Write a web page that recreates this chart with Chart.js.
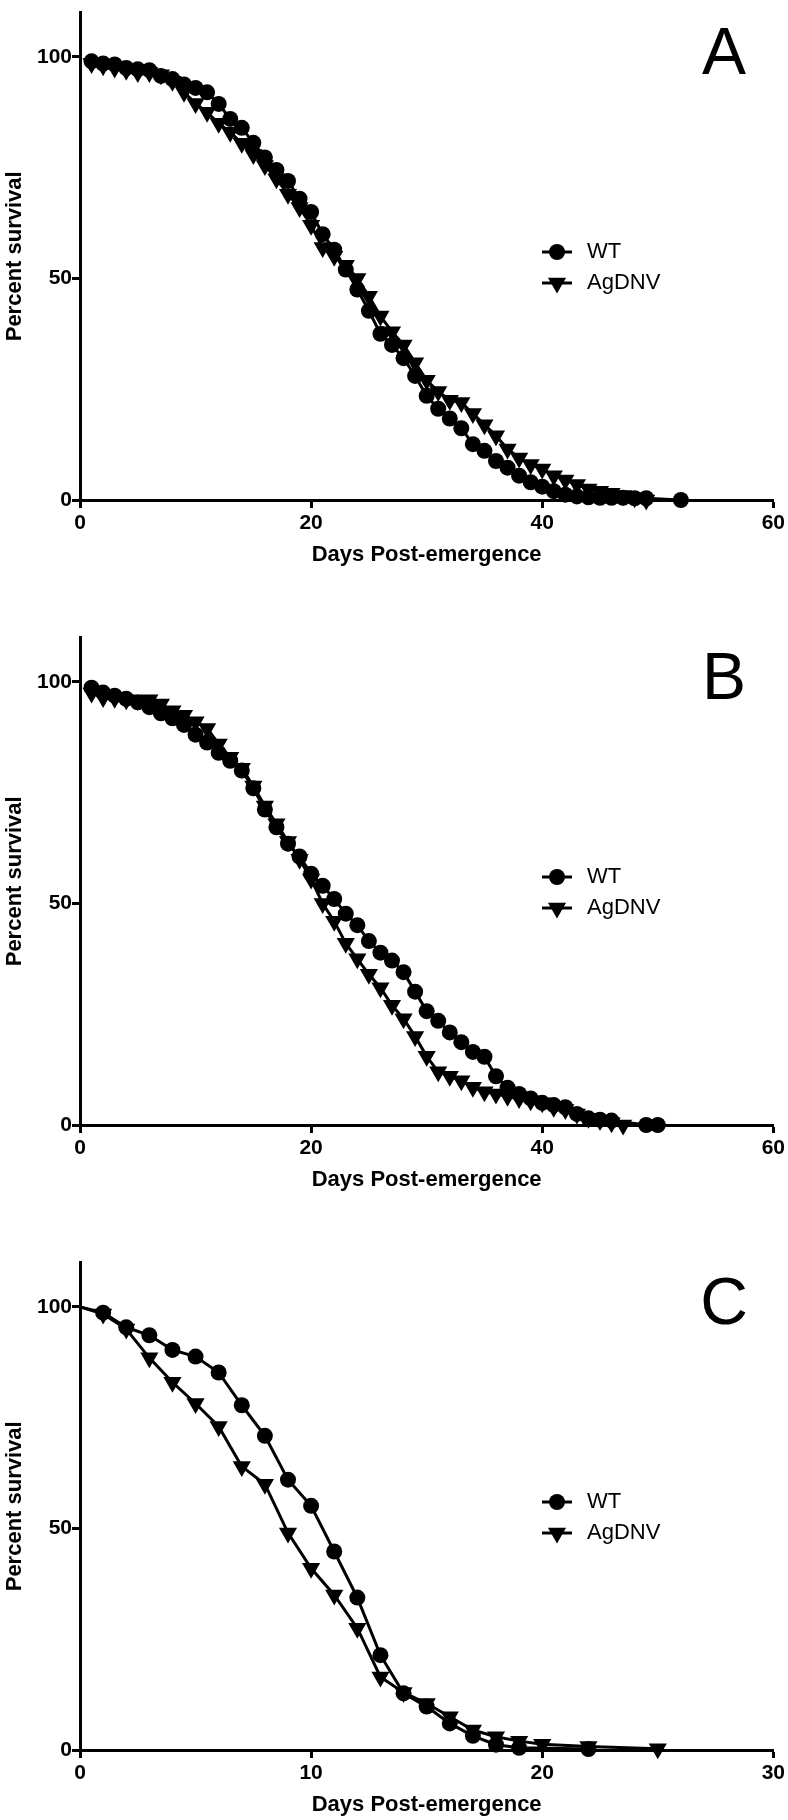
<!DOCTYPE html>
<html>
<head>
<meta charset="utf-8">
<script src="https://cdn.jsdelivr.net/npm/chart.js@4.4.1/dist/chart.umd.min.js"></script>
<style>
  html, body { margin: 0; padding: 0; background: #fff; }
  body { width: 788px; height: 1820px; position: relative; overflow: hidden; }
  .panel { position: absolute; left: 0; width: 788px; height: 570px; }
</style>
</head>
<body>
<div class="panel" style="top:0px"><canvas id="chartA" width="788" height="570"></canvas></div>
<div class="panel" style="top:625px"><canvas id="chartB" width="788" height="570"></canvas></div>
<div class="panel" style="top:1250px"><canvas id="chartC" width="788" height="570"></canvas></div>
<script>
// Panel A
const aWtDays = [1,2,3,4,5,6,7,8,9,10,11,12,13,14,15,16,17,18,19,20,21,22,23,24,25,26,27,28,29,30,31,32,33,34,35,36,37,38,39,40,41,42,43,44,45,46,47,48,49,52];
const aWtSurv = [99,98.5,98.3,97.5,97.2,97,95.7,95,93.8,93,92,89.4,86,84,80.6,77.3,74.5,72,68,65,60,56.5,52,47.5,42.7,37.5,35,32,28,23.5,20.6,18.4,16.2,12.6,11.1,8.8,7.3,5.5,4,3,2,1.2,0.8,0.6,0.5,0.5,0.5,0.4,0.4,0];
const aAgDays = [1,2,3,4,5,6,7,8,9,10,11,12,13,14,15,16,17,18,19,20,21,22,23,24,25,26,27,28,29,30,31,32,33,34,35,36,37,38,39,40,41,42,43,44,45,46,47,48,49];
const aAgSurv = [98.5,98,97.5,97,96.5,96.5,96,94.5,92,89.5,87.5,85,83,80.5,78,75.5,72.5,69,66,62,57,55,53,50,46,41.5,38,35,31,27,24.5,22.5,22,19.5,17,14.5,11.5,9.5,8,7,5.5,4.5,3.5,2.5,2,1.5,1,0.5,0];

// Panel B
const bWtDays = [1,2,3,4,5,6,7,8,9,10,11,12,13,14,15,16,17,18,19,20,21,22,23,24,25,26,27,28,29,30,31,32,33,34,35,36,37,38,39,40,41,42,43,44,45,46,49,50];
const bWtSurv = [98.7,97.6,96.9,96.2,95.4,94.3,92.9,91.8,90.3,88.1,86.3,84,82.2,80,76,71.2,67.2,63.5,60.6,56.7,54,51,47.7,45.1,41.5,38.9,37.1,34.5,30.1,25.7,23.5,20.9,18.7,16.5,15.4,11,8.4,7,6,5,4.5,4,2.5,1.5,1.2,1,0,0];
const bAgDays = [1,2,3,4,5,6,7,8,9,10,11,12,13,14,15,16,17,18,19,20,21,22,23,24,25,26,27,28,29,30,31,32,33,34,35,36,37,38,39,40,41,42,43,44,45,46,47];
const bAgSurv = [97.5,96.5,96.3,96,95.8,96,95,93.5,92.5,91,89.5,86,83,80.5,76.5,72,68,64,60,55.5,50,46,41,37.5,34,31,27,24,20,15.5,12,11,10,8.5,7.5,7,6.5,6,5.5,5,4,3.5,2.5,1.5,1,0.5,0];

// Panel C
const cWtDays = [0,1,2,3,4,5,6,7,8,9,10,11,12,13,14,15,16,17,18,19,22];
const cWtSurv = [100,98.7,95.4,93.6,90.3,88.8,85.2,77.8,70.9,61,55.1,44.8,34.4,21.4,12.8,9.8,6,3.2,1.2,0.5,0.2];
const cAgDays = [0,1,2,3,4,5,6,7,8,9,10,11,12,13,14,15,16,17,18,19,20,22,25];
const cAgSurv = [100,98.4,95,88.5,83,78.2,73,64,60,49,41,35,27.5,16.5,13,10.5,7.5,4.5,3,2,1.3,0.8,0.3];

const seriesLabels = ['WT', 'AgDNV'];
const yTicks = [0, 50, 100];
const xTicksLong = [0, 20, 40, 60];
const xTicksShort = [0, 10, 20, 30];

const fontFamily = '"Liberation Sans", Arial, Helvetica, sans-serif';
Chart.defaults.font.family = fontFamily;
Chart.defaults.color = '#000';

const circleRadius = 8;
const triangleRadius = 10.5;

// legend drawn by hand: short line with the marker on it, then the label
const survLegendPlugin = {
    id: 'survLegend',
    afterDraw(chart, args, opts) {
        const {ctx} = chart;
        ctx.save();
        chart.data.datasets.forEach((ds, i) => {
            const y = opts.y + i * opts.rowGap;
            ctx.strokeStyle = '#000';
            ctx.fillStyle = '#000';
            ctx.lineWidth = 3;
            ctx.beginPath();
            ctx.moveTo(opts.x - 15, y);
            ctx.lineTo(opts.x + 15, y);
            ctx.stroke();
            Chart.helpers.drawPoint(ctx, {
                pointStyle: ds.pointStyle,
                rotation: ds.pointRotation || 0,
                radius: ds.legendRadius,
                borderWidth: 0
            }, opts.x, y);
            ctx.font = '22px ' + fontFamily;
            ctx.textAlign = 'left';
            ctx.textBaseline = 'middle';
            ctx.fillText(ds.label, opts.x + 30, y);
        });
        ctx.restore();
    }
};

const panelLetterPlugin = {
    id: 'panelLetter',
    afterDraw(chart, args, opts) {
        const {ctx} = chart;
        ctx.save();
        ctx.fillStyle = '#000';
        ctx.font = '66px ' + fontFamily;
        ctx.textAlign = 'center';
        ctx.textBaseline = 'middle';
        ctx.fillText(opts.text, opts.x, opts.y);
        ctx.restore();
    }
};

function toPoints(days, surv) {
    return days.map((d, i) => ({x: d, y: surv[i]}));
}

function makeChart(id, wtDays, wtSurv, agDays, agSurv, xMax, xTicks, letter) {
    const ctx = document.getElementById(id).getContext('2d');
    return new Chart(ctx, {
        type: 'line',
        data: {
            datasets: [{
                label: seriesLabels[0],
                data: toPoints(wtDays, wtSurv),
                borderColor: '#000',
                backgroundColor: '#000',
                borderWidth: 3,
                pointStyle: 'circle',
                pointRadius: c => (c.raw && c.raw.x === 0 ? 0 : circleRadius),
                legendRadius: circleRadius,
                pointBorderWidth: 0,
                tension: 0,
                clip: false
            }, {
                label: seriesLabels[1],
                data: toPoints(agDays, agSurv),
                borderColor: '#000',
                backgroundColor: '#000',
                borderWidth: 3,
                pointStyle: 'triangle',
                pointRotation: 180,
                pointRadius: c => (c.raw && c.raw.x === 0 ? 0 : triangleRadius),
                legendRadius: triangleRadius,
                pointBorderWidth: 0,
                tension: 0,
                clip: false
            }]
        },
        options: {
            responsive: false,
            animation: false,
            events: [],
            layout: { padding: { top: 1, right: 13, left: 0, bottom: 0 } },
            scales: {
                x: {
                    type: 'linear',
                    min: 0,
                    max: xMax,
                    afterBuildTicks: s => { s.ticks = xTicks.map(v => ({value: v})); },
                    afterFit: s => { s.height = 70; },
                    border: { display: true, color: '#000', width: 3 },
                    grid: { display: true, drawOnChartArea: false, drawTicks: true, tickLength: 8, tickWidth: 3, tickColor: '#000', color: '#000' },
                    ticks: { font: { size: 21, weight: 'bold' }, padding: 3, maxRotation: 0, color: '#000' },
                    title: { display: true, text: 'Days Post-emergence', font: { size: 22, weight: 'bold' }, padding: { top: 0, bottom: 2 }, color: '#000' }
                },
                y: {
                    min: 0,
                    max: 110,
                    afterBuildTicks: s => { s.ticks = yTicks.map(v => ({value: v})); },
                    afterFit: s => { s.width = 80; },
                    border: { display: true, color: '#000', width: 3 },
                    grid: { display: true, drawOnChartArea: false, drawTicks: true, tickLength: 8, tickWidth: 3, tickColor: '#000', color: '#000' },
                    ticks: { font: { size: 21, weight: 'bold' }, padding: 0, color: '#000' },
                    title: { display: true, text: 'Percent survival', font: { size: 22, weight: 'bold' }, padding: { top: 2, bottom: 0 }, color: '#000' }
                }
            },
            plugins: {
                legend: { display: false },
                tooltip: { enabled: false },
                survLegend: { x: 557, y: 252, rowGap: 31 },
                panelLetter: { text: letter, x: 724, y: 56 }
            }
        },
        plugins: [survLegendPlugin, panelLetterPlugin]
    });
}

makeChart('chartA', aWtDays, aWtSurv, aAgDays, aAgSurv, 60, xTicksLong, 'A');
makeChart('chartB', bWtDays, bWtSurv, bAgDays, bAgSurv, 60, xTicksLong, 'B');
makeChart('chartC', cWtDays, cWtSurv, cAgDays, cAgSurv, 30, xTicksShort, 'C');
</script>
</body>
</html>
